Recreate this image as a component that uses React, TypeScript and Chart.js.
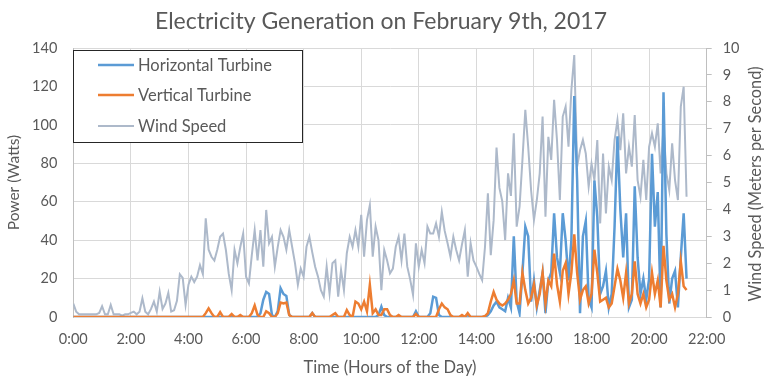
import React, { useEffect, useRef } from "react";
import { Chart, registerables } from "chart.js";

Chart.register(...registerables);

const TITLE = "Electricity Generation on February 9th, 2017";
const X_TITLE = "Time (Hours of the Day)";
const Y_LEFT_TITLE = "Power (Watts)";
const Y_RIGHT_TITLE = "Wind Speed (Meters per Second)";
const SERIES_NAMES = ["Horizontal Turbine", "Vertical Turbine", "Wind Speed"];

// samples every 6 minutes starting at midnight
const SAMPLE_START_HOUR = 0;
const SAMPLE_STEP_HOURS = 0.1;

const X_TICK_LABELS = ["0:00", "2:00", "4:00", "6:00", "8:00", "10:00", "12:00", "14:00", "16:00", "18:00", "20:00", "22:00"];

// Wind speed (m/s)
const WIND_SPEED = [
  0.5, 0.2, 0.1, 0.1, 0.1, 0.1, 0.1, 0.1, 0.1, 0.15,
  0.4, 0.1, 0.1, 0.45, 0.1, 0.1, 0.1, 0.05, 0.1, 0.1,
  0.15, 0.2, 0.1, 0.2, 0.7, 0.2, 0.1, 0.3, 0.57, 0.2,
  0.94, 0.3, 0.5, 0.9, 0.2, 0.25, 0.6, 1.59, 1.45, 0.45,
  1.2, 1.5, 1.3, 1.5, 1.93, 1.6, 3.67, 2.5, 2.24, 2.1,
  2.5, 2.98, 3.1, 2.49, 1.6, 1.0, 2.5, 2.0, 2.6, 3.1,
  1.5, 1.25, 2.3, 3.23, 2.1, 3.23, 1.87, 3.98, 2.74, 2.98,
  1.87, 2.6, 3.23, 2.98, 2.5, 3.23, 2.61, 2.0, 1.2, 1.8,
  1.5, 2.61, 2.98, 2.4, 1.87, 1.5, 1.0, 0.76, 1.87, 0.88,
  2.0, 2.1, 0.76, 1.75, 1.0, 2.37, 2.98, 2.61, 3.23, 2.61,
  3.8, 2.24, 3.6, 4.16, 2.24, 3.36, 2.86, 1.0, 2.49, 2.1,
  1.62, 1.8, 2.61, 2.98, 2.1, 3.1, 1.87, 1.4, 0.82, 2.74,
  1.87, 2.49, 2.0, 3.36, 3.1, 3.1, 3.48, 2.98, 3.91, 3.2,
  2.74, 2.24, 2.98, 2.49, 2.1, 2.7, 3.23, 1.5, 2.74, 2.1,
  1.87, 1.6, 1.37, 2.61, 4.6, 2.3, 3.6, 6.3, 4.8, 4.3,
  2.86, 5.34, 4.5, 6.83, 3.36, 4.1, 5.84, 7.7, 6.33, 4.72,
  3.6, 4.35, 5.34, 7.45, 3.73, 6.7, 5.84, 8.07, 6.58, 4.35,
  7.45, 7.82, 6.33, 8.44, 9.74, 5.59, 6.2, 6.58, 6.08, 4.84,
  5.7, 5.09, 6.58, 3.48, 6.08, 3.85, 5.59, 5.09, 6.58, 7.32,
  6.2, 7.57, 5.34, 6.33, 5.59, 7.51, 5.09, 4.47, 5.84, 4.35,
  6.33, 6.83, 6.33, 7.2, 5.34, 7.08, 5.34, 4.72, 6.46, 5.09,
  4.35, 7.82, 8.56, 4.47,
];

// Horizontal turbine power (W)
const HORIZONTAL_TURBINE = [
  0, 0, 0, 0, 0, 0, 0, 0, 0, 0,
  0, 0, 0, 0, 0, 0, 0, 0, 0, 0,
  0, 0, 0, 0, 0, 0, 0, 0, 0, 0,
  0, 0, 0, 0, 0, 0, 0, 0, 0, 0,
  0, 0, 0, 0, 0, 0, 0, 0, 0, 0,
  0, 0, 0, 0, 0, 0, 0, 0, 0, 0,
  0, 0, 0, 0, 0, 2, 9, 13, 12, 1,
  0, 3, 15, 12, 11, 1, 0, 0, 0, 0,
  0, 0, 0, 2, 0, 0, 0, 0, 0, 0,
  0, 0, 0, 0, 0, 0, 0, 0, 0, 0,
  0, 0, 0, 0, 0, 0, 1, 5.4, 1, 0,
  0, 0, 0, 0, 0, 0, 0, 0, 0, 3,
  0, 0, 0, 0, 2, 10.6, 10, 1, 0, 0,
  0, 0, 0, 0, 0, 0, 0, 1, 0, 0,
  0, 0, 0, 0, 1, 3, 6, 8, 5, 4,
  3, 10, 5, 42, 8, 2, 23, 47, 42, 8,
  19, 5, 14, 23, 2, 19, 23, 54, 31, 23,
  54, 40, 19, 40, 115, 71, 2, 42, 50, 9,
  5, 71, 52, 12, 16, 24, 5, 12, 47, 94,
  56, 31, 54, 5, 9, 68, 31, 12, 20, 9,
  20, 85, 47, 65, 5, 117, 43, 7, 20, 24,
  5, 31, 54, 20,
];

// Vertical turbine power (W)
const VERTICAL_TURBINE = [
  0, 0, 0, 0, 0, 0, 0, 0, 0, 0,
  0, 0, 0, 0, 0, 0, 0, 0, 0, 0,
  0, 0, 0, 0, 0, 0, 0, 0, 0, 0,
  0, 0, 0, 0, 0, 0, 0, 0, 0, 0,
  0, 0, 0, 0, 0, 0, 2, 4.5, 2, 0,
  0, 2.5, 0, 0, 0, 1.5, 0, 0, 1, 0,
  0, 0, 2, 6, 1, 0, 0, 3, 2, 0,
  0, 2, 7.5, 7, 7.5, 1, 0, 0, 0, 0,
  0, 0, 0, 2, 0, 0, 0, 0, 0, 0,
  1, 2, 0, 0, 0, 3.6, 1, 0, 8, 7,
  4, 8, 3, 16.7, 2, 4, 1, 1, 4, 4,
  1, 0, 0, 1, 0, 0, 0, 0, 0, 1.5,
  0, 0, 0, 0, 0, 0, 0, 4, 7, 5,
  4, 1, 0, 0, 0, 1, 0, 2, 0, 0,
  0, 0, 0, 0.5, 2, 8, 13, 9, 7, 6,
  7, 9, 12, 19, 7, 7, 23, 14, 7, 10,
  17, 6, 12, 23, 7, 19, 16, 33, 17, 8,
  24, 28, 12, 23, 43, 23, 9, 14, 16, 7,
  12, 35, 23, 8, 9, 10, 5, 7, 16, 25,
  19, 10, 23, 7, 12, 29, 12, 7, 12, 5,
  9, 23, 12, 19, 5, 37, 19, 9, 12, 5,
  12, 29, 16, 14,
];

const FONT = "Lato, 'Open Sans', sans-serif";
const TEXT = "#595959";
const GRID = "#D9D9D9";
const AXIS = "#BFBFBF";
const COLORS = ["#5B9BD5", "#ED7D31", "#ADB9CA"];

const toPoints = (values: number[]) =>
  values.map((v, i) => ({ x: SAMPLE_START_HOUR + i * SAMPLE_STEP_HOURS, y: v }));

const decorPlugin = {
  id: "decor",
  afterDraw(chart: any) {
    const ctx = chart.ctx as CanvasRenderingContext2D;
    ctx.save();
    ctx.fillStyle = TEXT;
    ctx.textBaseline = "middle";
    // title
    ctx.font = `23px ${FONT}`;
    ctx.textAlign = "center";
    ctx.fillText(TITLE, 381, 22);
    // right axis title (reads bottom to top)
    ctx.save();
    ctx.font = `16.3px ${FONT}`;
    ctx.translate(756, 184);
    ctx.rotate(-Math.PI / 2);
    ctx.fillText(Y_RIGHT_TITLE, 0, 0);
    ctx.restore();
    // legend box
    const bx = 73, by = 50, bw = 229, bh = 92;
    ctx.fillStyle = "#FFFFFF";
    ctx.fillRect(bx, by, bw, bh);
    ctx.strokeStyle = "#262626";
    ctx.lineWidth = 1;
    ctx.strokeRect(bx + 0.5, by + 0.5, bw, bh);
    const rows = [65, 95, 126];
    SERIES_NAMES.forEach((name, i) => {
      ctx.strokeStyle = COLORS[i];
      ctx.lineWidth = i === 2 ? 2 : 2.5;
      ctx.beginPath();
      ctx.moveTo(98, rows[i]);
      ctx.lineTo(134, rows[i]);
      ctx.stroke();
      ctx.fillStyle = TEXT;
      ctx.font = `16.5px ${FONT}`;
      ctx.textAlign = "left";
      ctx.fillText(name, 138, rows[i] + 1);
    });
    ctx.restore();
  },
};

export default function App() {
  const ref = useRef<HTMLCanvasElement | null>(null);
  useEffect(() => {
    document.body.style.margin = "0";
    const canvas = ref.current;
    if (!canvas) return;
    const chart = new Chart(canvas, {
      type: "line",
      data: {
        datasets: [
          {
            label: SERIES_NAMES[1],
            data: toPoints(VERTICAL_TURBINE),
            borderColor: COLORS[1],
            borderWidth: 2.5,
            pointRadius: 0,
            tension: 0,
            yAxisID: "y",
            order: 0,
          },
          {
            label: SERIES_NAMES[0],
            data: toPoints(HORIZONTAL_TURBINE),
            borderColor: COLORS[0],
            borderWidth: 2.5,
            pointRadius: 0,
            tension: 0,
            yAxisID: "y",
            order: 1,
          },
          {
            label: SERIES_NAMES[2],
            data: toPoints(WIND_SPEED),
            borderColor: COLORS[2],
            borderWidth: 2,
            pointRadius: 0,
            tension: 0,
            yAxisID: "y1",
            order: 2,
          },
        ],
      },
      options: {
        animation: false,
        responsive: true,
        maintainAspectRatio: false,
        events: [],
        layout: { padding: { top: 48, left: 0, right: 0, bottom: 0 } },
        plugins: {
          legend: { display: false },
          title: { display: false },
          tooltip: { enabled: false },
        },
        scales: {
          x: {
            type: "linear",
            min: 0,
            max: 22,
            afterFit: (s: any) => { s.height = 75; },
            ticks: {
              stepSize: 2,
              autoSkip: false,
              maxRotation: 0,
              padding: 14,
              color: TEXT,
              font: { family: FONT, size: 14.5 },
              callback: (_v: any, i: number) => X_TICK_LABELS[i],
            },
            grid: { color: GRID, lineWidth: 1, drawTicks: false },
            border: { display: true, color: GRID },
            title: {
              display: true,
              text: X_TITLE,
              color: TEXT,
              font: { family: FONT, size: 16.5 },
              padding: { top: 0, bottom: 14 },
            },
          },
          y: {
            position: "left",
            min: 0,
            max: 140,
            afterFit: (s: any) => { s.width = 73.3; },
            ticks: {
              stepSize: 20,
              padding: 16,
              color: TEXT,
              font: { family: FONT, size: 14.5 },
            },
            grid: { color: GRID, lineWidth: 1, drawTicks: false },
            border: { display: true, color: AXIS },
            title: {
              display: true,
              text: Y_LEFT_TITLE,
              color: TEXT,
              font: { family: FONT, size: 15.5 },
              padding: { top: 4.7, bottom: 0 },
            },
          },
          y1: {
            position: "right",
            min: 0,
            max: 10,
            afterFit: (s: any) => { s.width = 768 - 706.7; },
            ticks: {
              stepSize: 1,
              padding: 11,
              color: TEXT,
              font: { family: FONT, size: 14.5 },
            },
            grid: { drawOnChartArea: false, drawTicks: true, tickLength: 5, color: AXIS },
            border: { display: true, color: AXIS },
          },
        },
      },
      plugins: [decorPlugin],
    });
    return () => chart.destroy();
  }, []);
  return (
    <div style={{ position: "relative", width: 768, height: 392 }}>
      <canvas ref={ref} />
    </div>
  );
}
